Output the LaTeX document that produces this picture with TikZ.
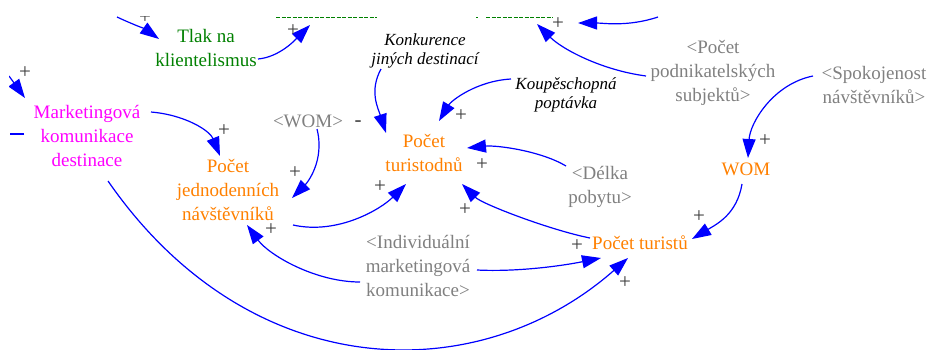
\documentclass[tikz,border=0pt]{standalone}
\usepackage{fontspec}
\setmainfont{Liberation Serif}
\usetikzlibrary{arrows.meta}
\definecolor{linkblue}{RGB}{0,0,255}
\definecolor{flowor}{RGB}{255,128,0}
\definecolor{shadowgray}{RGB}{128,128,128}
\definecolor{pressgreen}{RGB}{0,128,0}
\definecolor{mktmag}{RGB}{255,0,255}
\definecolor{polgray}{RGB}{60,60,60}
\begin{document}
\begin{tikzpicture}[x=1pt,y=-1pt,
  var/.style={align=center, inner sep=0pt, font=\fontsize{19}{24}\selectfont},
  level/.style={var, text=flowor},
  shadowvar/.style={var, text=shadowgray},
  extvar/.style={align=center, inner sep=0pt, font=\fontsize{17}{19.5}\selectfont\itshape},
  link/.style={linkblue, line width=1.2pt, -{Triangle[length=19pt,width=13pt]}},
  plainlink/.style={linkblue, line width=1.2pt},
  pol/.style={text=polgray, inner sep=0pt, font=\fontsize{21}{21}\selectfont},
  cut/.style={pressgreen, line width=1.3pt, dash pattern=on 4pt off 1.5pt}]
\useasboundingbox (0,0) rectangle (931,349);
\clip (9,16.5) rectangle (931,349);

% variables
\node[var, text=pressgreen] (tk) at (206,48) {Tlak na\\klientelismus};
\node[var, text=mktmag] (mk) at (87,136) {Marketingová\\komunikace\\destinace};
\node[level] (pj) at (228,190) {Počet\\jednodenních\\návštěvníků};
\node[shadowvar] (wg) at (308,121) {<WOM>};
\node[level] (ptd) at (424,153) {Počet\\turistodnů};
\node[extvar] (kon) at (425,51) {Konkurence\\jiných destinací};
\node[extvar] (kou) at (566,95) {Koupěschopná\\poptávka};
\node[shadowvar] (pps) at (713,73) {<Počet\\podnikatelských\\subjektů>};
\node[shadowvar] (spk) at (874,85) {<Spokojenost\\návštěvníků>};
\node[level] (wom) at (746,169) {WOM};
\node[shadowvar] (dp) at (600,187) {<Délka\\pobytu>};
\node[shadowvar] (imk) at (418,266) {<Individuální\\marketingová\\komunikace>};
\node[level] (pt) at (640,243) {Počet turistů};

% variables cut off by the upper edge
\coordinate (topa) at (326,8);
\coordinate (topb) at (520,8);
\draw[cut] (276,17.4) -- (377,17.4);
\draw[cut] (476,17.4) -- (478,17.4);
\draw[cut] (486,17.4) -- (553,17.4);

% free ends leaving the frame
\coordinate (fa) at (117,17);
\coordinate (fb) at (658,17);
\coordinate (fc) at (9,76);
\coordinate (fd) at (10,134);

% links
\draw[link] (fa) .. controls +(15,7) and +(-14,-10) .. ([shift={(-47,-9)}]tk.center);
\draw[link] ([shift={(52,11)}]tk.center) .. controls +(22,-2) and +(-14,14) .. ([shift={(-16,17)}]topa);
\draw[link] (fb) .. controls +(-30,10) and +(25,0) .. ([shift={(58,15)}]topb);
\draw[link] ([shift={(-67,3)}]pps.center) .. controls +(-45,-6) and +(25,25) .. ([shift={(17,16)}]topb);
\draw[link] ([shift={(-44,18)}]kon.center) .. controls +(-12,22) and +(-8,-25) .. ([shift={(-38,-20)}]ptd.center);
\draw[link] ([shift={(-55,-16)}]kou.center) .. controls +(-35,2) and +(12,-20) .. ([shift={(15,-32)}]ptd.center);
\draw[link] ([shift={(9,8)}]wg.center) .. controls +(8,32) and +(15,-15) .. ([shift={(64,8)}]pj.center);
\draw[link] ([shift={(64,-24)}]mk.center) .. controls +(35,3) and +(-10,-25) .. ([shift={(-8,-34)}]pj.center);
\draw[link] ([shift={(65,35)}]pj.center) .. controls +(45,10) and +(-25,25) .. ([shift={(-18,31)}]ptd.center);
\draw[link] ([shift={(-34,-21)}]dp.center) .. controls +(-25,-15) and +(30,-3) .. ([shift={(43,-5)}]ptd.center);
\draw[link] ([shift={(-50,-5)}]pt.center) .. controls +(-40,-8) and +(20,20) .. ([shift={(38,31)}]ptd.center);
\draw[link] ([shift={(21,45)}]mk.center) .. controls +(142,205) and +(-150,132) .. ([shift={(-12,15)}]pt.center);
\draw[link] ([shift={(-58,16)}]imk.center) .. controls +(-45,0) and +(22,30) .. ([shift={(19,35)}]pj.center);
\draw[link] ([shift={(59,4)}]imk.center) .. controls +(40,2) and +(-40,8) .. ([shift={(-39,15)}]pt.center);
\draw[link] ([shift={(-4,15)}]wom.center) .. controls +(-5,30) and +(25,-15) .. ([shift={(52,-4)}]pt.center);
\draw[link] ([shift={(-61,-9)}]spk.center) .. controls +(-40,8) and +(2,-35) .. ([shift={(2,-11)}]wom.center);
\draw[link] (fc) -- ([shift={(-62,-38)}]mk.center);
\draw[plainlink] ([shift={(-63,-2)}]mk.center) -- (fd);

% polarities
\node[pol] at (145,18) {+};
\node[pol] at (293,31) {+};
\node[pol] at (558,24) {+};
\node[pol] at (25,73) {+};
\node[pol] at (224,131) {+};
\node[pol] at (295,173) {+};
\node[pol] at (358,124) {-};
\node[pol] at (461,116) {+};
\node[pol] at (482,165) {+};
\node[pol] at (380,187) {+};
\node[pol] at (465,210) {+};
\node[pol] at (271,230) {+};
\node[pol] at (577,246) {+};
\node[pol] at (625,283) {+};
\node[pol] at (699,217) {+};
\node[pol] at (765,141) {+};
\end{tikzpicture}
\end{document}
